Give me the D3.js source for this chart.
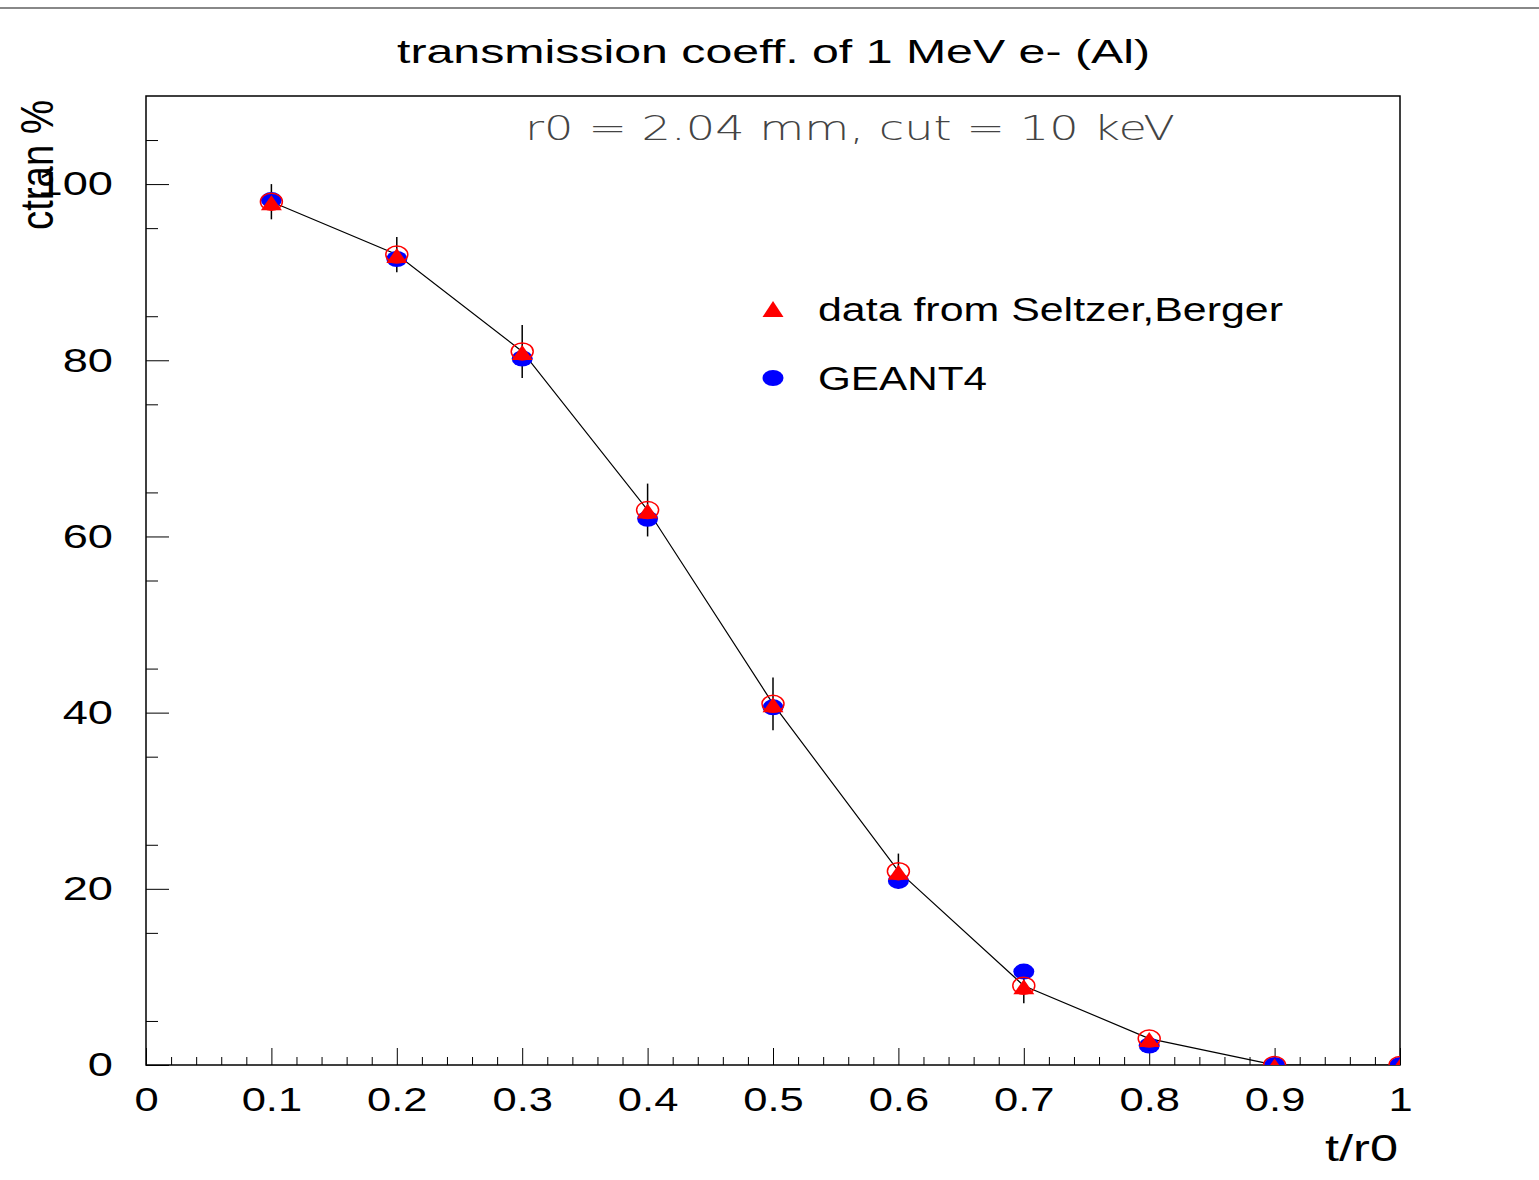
<!DOCTYPE html>
<html>
<head>
<meta charset="utf-8">
<script src="https://cdn.jsdelivr.net/npm/d3@7"></script>
<style>
  body { margin: 0; background: #fff; }
  svg { display: block; }
</style>
</head>
<body>
<svg id="chart" width="1539" height="1180"></svg>
<script>
// values
var tr      = [0.1, 0.2, 0.3, 0.4, 0.5, 0.6, 0.7, 0.8, 0.9, 1.0];
var seltzer = [98, 92, 81, 63, 41, 22, 9, 3, 0, 0];
var errs    = [2, 2, 3, 3, 3, 2, 2, 0.5, 0.5, 0];
var geant   = [98.2, 91.5, 80.2, 62, 40.6, 20.9, 10.6, 2.2, 0, 0];
var xTicks  = [0, 0.1, 0.2, 0.3, 0.4, 0.5, 0.6, 0.7, 0.8, 0.9, 1];
var yTicks  = [0, 20, 40, 60, 80, 100];

var svg = d3.select("#chart"),
    margin = { top: 96, right: 139, bottom: 115, left: 146 },
    iwidth = +svg.attr("width") - margin.left - margin.right,
    iheight = +svg.attr("height") - margin.top - margin.bottom;

var font = "'Liberation Sans', Arial, Helvetica, sans-serif";

// grey rule on top of the canvas
svg.append("line")
  .attr("x1", 0).attr("x2", 1539).attr("y1", 8).attr("y2", 8)
  .style("stroke", "#888").style("stroke-width", 2);

var g = svg.append("g").attr("transform", "translate(" + margin.left + "," + margin.top + ")");

var x = d3.scaleLinear().domain([0, 1]).range([0, iwidth]);
var y = d3.scaleLinear().domain([0, 110]).range([iheight, 0]);

g.append("defs").append("clipPath").attr("id", "clip")
  .append("rect").attr("width", iwidth).attr("height", iheight);

// axes
var xMajor = g.append("g")
  .attr("transform", "translate(0," + iheight + ")")
  .call(d3.axisBottom(x).tickValues(xTicks).tickSize(-17).tickFormat(d3.format("")));
xMajor.select(".domain").remove();
xMajor.selectAll("line").style("stroke", "#000");
xMajor.selectAll("text")
  .attr("y", 22).attr("x", 0)
  .attr("transform", "scale(1.28,1)")
  .style("font-family", font).style("font-size", "34px").style("fill", "#000");

var xMinor = g.append("g")
  .attr("transform", "translate(0," + iheight + ")")
  .call(d3.axisBottom(x).tickValues(d3.range(0, 50).map(i => i * 0.02).filter(v => Math.round(v * 50) % 5 != 0)).tickSize(-8).tickFormat(""));
xMinor.select(".domain").remove();
xMinor.selectAll("line").style("stroke", "#000");

var yMajor = g.append("g")
  .call(d3.axisLeft(y).tickValues(yTicks).tickSize(-23));
yMajor.select(".domain").remove();
yMajor.selectAll("line").style("stroke", "#000");
yMajor.selectAll("text")
  .attr("x", 0)
  .attr("transform", "translate(-33,0) scale(1.33,1)")
  .style("font-family", font).style("font-size", "34px").style("fill", "#000");

var yMinor = g.append("g")
  .call(d3.axisLeft(y).tickValues(d3.range(5, 110, 10)).tickSize(-12).tickFormat(""));
yMinor.select(".domain").remove();
yMinor.selectAll("line").style("stroke", "#000");

// frame
g.append("rect")
  .attr("width", iwidth).attr("height", iheight)
  .style("fill", "none").style("stroke", "#000").style("stroke-width", 1.5);

var plot = g.append("g").attr("clip-path", "url(#clip)");

// line through the reference data
var line = d3.line()
  .x((d, i) => x(tr[i]))
  .y(d => y(d));

plot.append("path")
  .datum(seltzer)
  .attr("d", line)
  .style("fill", "none").style("stroke", "#000").style("stroke-width", 1.2);

// error bars
plot.selectAll(".err")
  .data(seltzer)
  .enter().append("line")
  .attr("class", "err")
  .attr("x1", (d, i) => x(tr[i])).attr("x2", (d, i) => x(tr[i]))
  .attr("y1", (d, i) => y(d + errs[i])).attr("y2", (d, i) => y(d - errs[i]))
  .style("stroke", "#000").style("stroke-width", 1.5);

// GEANT4
plot.selectAll(".g4")
  .data(geant)
  .enter().append("ellipse")
  .attr("class", "g4")
  .attr("cx", (d, i) => x(tr[i])).attr("cy", d => y(d))
  .attr("rx", 10.5).attr("ry", 8)
  .style("fill", "#0000ff");

// open circles on reference data
plot.selectAll(".oc")
  .data(seltzer)
  .enter().append("ellipse")
  .attr("class", "oc")
  .attr("cx", (d, i) => x(tr[i])).attr("cy", d => y(d))
  .attr("rx", 11).attr("ry", 8.5)
  .style("fill", "none").style("stroke", "#ff0000").style("stroke-width", 1.5);

// triangles on reference data
function tri(cx, cy, w, h) {
  return "M" + (cx - w / 2) + "," + (cy + h / 2) + "L" + cx + "," + (cy - h / 2) + "L" + (cx + w / 2) + "," + (cy + h / 2) + "Z";
}
plot.selectAll(".tri")
  .data(seltzer)
  .enter().append("path")
  .attr("class", "tri")
  .attr("d", (d, i) => tri(x(tr[i]), y(d) + 1, 21, 15))
  .style("fill", "#ff0000");

// texts
svg.append("text")
  .attr("x", 397).attr("y", 63)
  .attr("textLength", 753).attr("lengthAdjust", "spacingAndGlyphs")
  .style("font-family", font).style("font-size", "34px")
  .text("transmission coeff. of 1 MeV e- (Al)");

svg.append("text")
  .attr("x", 525).attr("y", 140)
  .attr("textLength", 650).attr("lengthAdjust", "spacingAndGlyphs")
  .style("font-family", "'DejaVu Sans', sans-serif").style("font-weight", 200)
  .style("font-size", "34px").style("fill", "#444")
  .text("r0 = 2.04 mm, cut = 10 keV");

svg.append("text")
  .attr("transform", "translate(53,230) rotate(-90)")
  .attr("textLength", 130).attr("lengthAdjust", "spacingAndGlyphs")
  .style("font-family", font).style("font-size", "46px")
  .text("ctran %");

svg.append("text")
  .attr("x", 1325).attr("y", 1161)
  .attr("textLength", 73).attr("lengthAdjust", "spacingAndGlyphs")
  .style("font-family", font).style("font-size", "36px")
  .text("t/r0");

// legend
svg.append("path").attr("d", tri(773, 309, 21, 16)).style("fill", "#ff0000");
svg.append("ellipse").attr("cx", 773).attr("cy", 378).attr("rx", 10.5).attr("ry", 8).style("fill", "#0000ff");

svg.append("text")
  .attr("x", 818).attr("y", 321)
  .attr("textLength", 465).attr("lengthAdjust", "spacingAndGlyphs")
  .style("font-family", font).style("font-size", "34px")
  .text("data from Seltzer,Berger");

svg.append("text")
  .attr("x", 818).attr("y", 390)
  .attr("textLength", 169).attr("lengthAdjust", "spacingAndGlyphs")
  .style("font-family", font).style("font-size", "34px")
  .text("GEANT4");
</script>
</body>
</html>
